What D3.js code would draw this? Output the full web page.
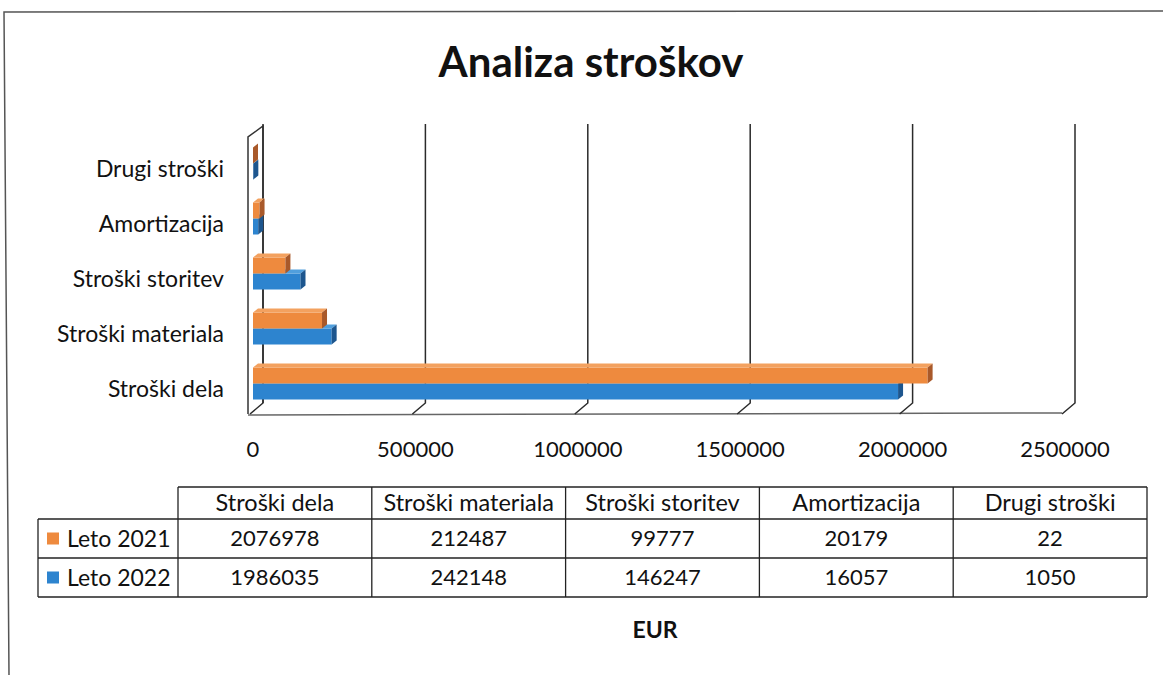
<!DOCTYPE html>
<html>
<head>
<meta charset="utf-8">
<script src="https://cdn.jsdelivr.net/npm/d3@7"></script>
<style>
  html, body { margin: 0; padding: 0; background: #fff; }
  svg { display: block; font-family: Lato, "Open Sans", sans-serif; }
</style>
</head>
<body>
<div id="chart"></div>
<script>
// chart data
const categories = ["Stroški dela", "Stroški materiala", "Stroški storitev", "Amortizacija", "Drugi stroški"];
const series = ["Leto 2021", "Leto 2022"];
const leto2021 = [2076978, 212487, 99777, 20179, 22];
const leto2022 = [1986035, 242148, 146247, 16057, 1050];
const xTicks = [0, 500000, 1000000, 1500000, 2000000, 2500000];
const colors = {
  "Leto 2021": { front: "#ee8a3e", top: "#f3a15f", side: "#a9592a" },
  "Leto 2022": { front: "#2d84cf", top: "#509fdd", side: "#1d568e" }
};

const width = 1163, height = 675;
const depthX = 13, depthY = 11;   // 3d offset of the back wall
const barDx = 5, barDy = 4;       // 3d offset of a bar

const svg = d3.select("#chart").append("svg")
  .attr("width", width)
  .attr("height", height);

// outer border of the scanned chart
svg.append("path")
  .attr("d", "M9,675 L4,12 L1163,11")
  .attr("fill", "none")
  .attr("stroke", "#555")
  .attr("stroke-width", 1.5);

// title
svg.append("text")
  .attr("x", 591).attr("y", 77)
  .attr("text-anchor", "middle")
  .attr("font-size", 42)
  .attr("font-weight", "bold")
  .attr("fill", "#111")
  .text("Analiza stroškov");

// scales
const floorY = 414;
const x = d3.scaleLinear().domain([0, 2500000]).range([250, 1062]);
const xb = d3.scaleLinear().domain([0, 2500000]).range([253, 1065]);
const y = d3.scaleBand().domain(categories.slice().reverse()).range([136, 411]);
const y1 = d3.scaleBand().domain(series).range([0, 32]);

// left wall
svg.append("path")
  .attr("d", `M${x(0) - 2},${floorY} L${x(0) - 2},137 L${x(0) + depthX},126 L${x(0) + depthX},${floorY - depthY}`)
  .attr("fill", "none")
  .attr("stroke", "#333")
  .attr("stroke-width", 1.5);

// floor front edge
svg.append("line")
  .attr("x1", x(0) - 2).attr("x2", x(2500000))
  .attr("y1", floorY + 1).attr("y2", floorY - 1)
  .attr("stroke", "#666")
  .attr("stroke-width", 1.5);

// gridlines: across the floor and up the back wall
svg.append("g")
  .selectAll("path")
  .data(xTicks)
  .join("path")
  .attr("d", d => `M${x(d)},${floorY} L${x(d) + depthX},${floorY - depthY} L${x(d) + depthX},124`)
  .attr("fill", "none")
  .attr("stroke", "#2b2b2b")
  .attr("stroke-width", 1.5);

// x axis labels
svg.append("g")
  .selectAll("text")
  .data(xTicks)
  .join("text")
  .attr("x", d => x(d) + 3)
  .attr("y", 457)
  .attr("text-anchor", "middle")
  .attr("font-size", 22)
  .attr("fill", "#111")
  .text(d3.format("d"));

// category labels
svg.append("g")
  .selectAll("text")
  .data(categories)
  .join("text")
  .attr("x", 224)
  .attr("y", d => y(d) + y.bandwidth() / 2 + 5)
  .attr("dy", "0.35em")
  .attr("text-anchor", "end")
  .attr("font-size", 23)
  .attr("fill", "#111")
  .text(d => d);

// bars, blue first so orange sits above it
const barData = [];
categories.forEach((c, i) => {
  barData.push({ cat: c, s: "Leto 2022", v: leto2022[i] });
  barData.push({ cat: c, s: "Leto 2021", v: leto2021[i] });
});

const bar = svg.append("g")
  .selectAll("g")
  .data(barData)
  .join("g");

bar.append("rect")
  .attr("x", xb(0))
  .attr("y", d => y(d.cat) + y.bandwidth() / 2 - 16 + y1(d.s))
  .attr("width", d => xb(d.v) - xb(0))
  .attr("height", y1.bandwidth())
  .attr("fill", d => colors[d.s].front);

bar.append("path")
  .attr("d", d => {
    const t = y(d.cat) + y.bandwidth() / 2 - 16 + y1(d.s);
    const x0 = xb(0), x1 = xb(d.v);
    return `M${x0},${t} L${x0 + barDx},${t - barDy} L${x1 + barDx},${t - barDy} L${x1},${t}Z`;
  })
  .attr("fill", d => colors[d.s].top);

bar.append("path")
  .attr("d", d => {
    const t = y(d.cat) + y.bandwidth() / 2 - 16 + y1(d.s);
    const x1 = xb(d.v), h = y1.bandwidth();
    return `M${x1},${t} L${x1 + barDx},${t - barDy} L${x1 + barDx},${t + h - barDy} L${x1},${t + h}Z`;
  })
  .attr("fill", d => colors[d.s].side);

// data table
const col = d3.scaleBand().domain(categories).range([178, 1147]);
const rowTop = [487, 519, 558];
const rowBottom = 597;
const legendLeft = 38;

const table = svg.append("g")
  .attr("fill", "none")
  .attr("stroke", "#222")
  .attr("stroke-width", 1.3);

// horizontal lines
table.append("line").attr("x1", 178).attr("x2", 1147).attr("y1", rowTop[0]).attr("y2", rowTop[0]);
table.append("line").attr("x1", legendLeft).attr("x2", 1147).attr("y1", rowTop[1]).attr("y2", rowTop[1]);
table.append("line").attr("x1", legendLeft).attr("x2", 1147).attr("y1", rowTop[2]).attr("y2", rowTop[2]);
table.append("line").attr("x1", legendLeft).attr("x2", 1147).attr("y1", rowBottom).attr("y2", rowBottom);
// vertical lines
table.append("line").attr("x1", legendLeft).attr("x2", legendLeft).attr("y1", rowTop[1]).attr("y2", rowBottom);
table.selectAll(".v")
  .data(categories)
  .join("line")
  .attr("x1", d => col(d)).attr("x2", d => col(d))
  .attr("y1", rowTop[0]).attr("y2", rowBottom);
table.append("line").attr("x1", 1147).attr("x2", 1147).attr("y1", rowTop[0]).attr("y2", rowBottom);

// header
svg.append("g")
  .selectAll("text")
  .data(categories)
  .join("text")
  .attr("x", d => col(d) + col.bandwidth() / 2)
  .attr("y", (rowTop[0] + rowTop[1]) / 2)
  .attr("dy", "0.35em")
  .attr("text-anchor", "middle")
  .attr("font-size", 23.5)
  .attr("fill", "#111")
  .text(d => d);

// table rows
const rows = [
  { s: "Leto 2021", vals: leto2021, top: rowTop[1], bottom: rowTop[2] },
  { s: "Leto 2022", vals: leto2022, top: rowTop[2], bottom: rowBottom }
];

rows.forEach(r => {
  const mid = (r.top + r.bottom) / 2;
  svg.append("rect")
    .attr("x", 47).attr("y", mid - 6)
    .attr("width", 12).attr("height", 12)
    .attr("fill", colors[r.s].front);
  svg.append("text")
    .attr("x", 67).attr("y", mid)
    .attr("dy", "0.35em")
    .attr("font-size", 23)
    .attr("fill", "#111")
    .text(r.s);
  svg.append("g")
    .selectAll("text")
    .data(r.vals)
    .join("text")
    .attr("x", (d, i) => col(categories[i]) + col.bandwidth() / 2)
    .attr("y", mid)
    .attr("dy", "0.35em")
    .attr("text-anchor", "middle")
    .attr("font-size", 22)
    .attr("fill", "#111")
    .text(d => d);
});

// unit label
svg.append("text")
  .attr("x", 655).attr("y", 630)
  .attr("dy", "0.35em")
  .attr("text-anchor", "middle")
  .attr("font-size", 23)
  .attr("font-weight", "bold")
  .attr("fill", "#111")
  .text("EUR");
</script>
</body>
</html>
